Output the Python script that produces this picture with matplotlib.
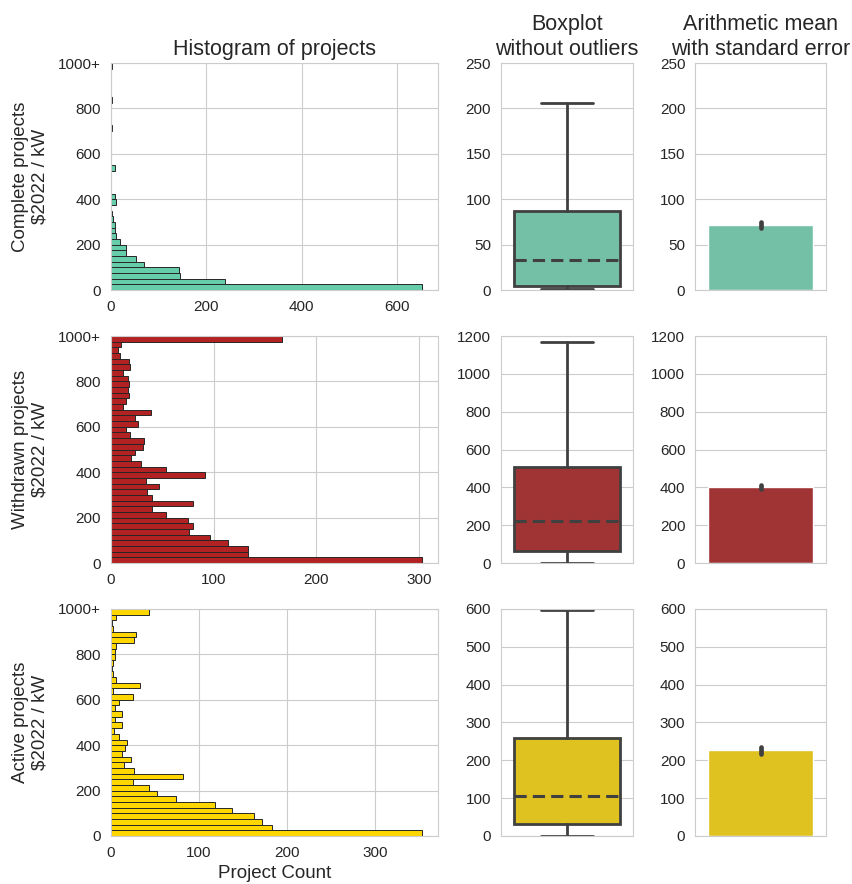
import numpy as np
import matplotlib
matplotlib.use("Agg")
import matplotlib.pyplot as plt
from matplotlib.ticker import MultipleLocator
import seaborn as sns

sns.set_style("whitegrid")
plt.rcParams["font.family"] = ["Liberation Sans", "DejaVu Sans"]

# histogram bins: 25 $/kW wide from 0 to 1000, last bin collects everything above
bin_width = 25
bin_edges = np.arange(0, 1000, bin_width)

statuses = ["Complete", "Withdrawn", "Active"]
hist_colors = ["mediumaquamarine", "firebrick", "gold"]

complete_counts = [653, 239, 146, 143, 70, 54, 33, 31, 19, 12,
                   8, 8, 4, 3, 1, 12, 9, 0, 0, 0,
                   0, 8, 0, 0, 0, 0, 0, 0, 2, 0,
                   0, 0, 0, 2, 0, 0, 0, 0, 0, 3]
withdrawn_counts = [303, 134, 134, 114, 97, 76, 80, 75, 54, 40,
                    80, 40, 35, 47, 34, 92, 54, 29, 20, 24,
                    31, 32, 19, 15, 27, 24, 39, 12, 15, 18,
                    17, 18, 17, 12, 19, 18, 9, 7, 10, 167]
active_counts = [353, 183, 171, 162, 138, 118, 74, 53, 43, 25,
                 82, 26, 15, 23, 13, 16, 18, 9, 4, 13,
                 5, 13, 5, 9, 25, 3, 33, 6, 3, 1,
                 3, 5, 5, 6, 26, 29, 3, 1, 6, 43]
hist_counts = [complete_counts, withdrawn_counts, active_counts]
hist_xsteps = [200, 100, 100]

# boxplot summary (whisker low, Q1, median, Q3, whisker high)
box_whislo = [1, 2, 1]
box_q1 = [5, 62, 33]
box_med = [33, 220, 105]
box_q3 = [87, 507, 260]
box_whishi = [206, 1167, 597]

# arithmetic mean and standard error
mean_vals = [71.5, 403, 226]
mean_sem = [3.5, 12, 8]

box_ylims = [250, 1200, 600]
box_ysteps = [50, 200, 100]

line_gray = "#404040"

fig = plt.figure(figsize=(8.53, 8.84), dpi=100)
row_bottoms = [0.6719, 0.3631, 0.0543]
row_h = 0.2568

for r, status in enumerate(statuses):
    b = row_bottoms[r]
    ax_h = fig.add_axes([0.1298, b, 0.3834, row_h])
    ax_b = fig.add_axes([0.5873, b, 0.1547, row_h])
    ax_m = fig.add_axes([0.8148, b, 0.1536, row_h])

    counts = np.array(hist_counts[r])
    ax_h.barh(bin_edges, counts, height=bin_width, align="edge",
              color=hist_colors[r], edgecolor="#262626", linewidth=0.7)
    ax_h.set_ylim(0, 1000)
    ax_h.set_xlim(0, counts.max() * 1.05)
    ax_h.xaxis.set_major_locator(MultipleLocator(hist_xsteps[r]))
    ax_h.set_yticks([0, 200, 400, 600, 800, 1000])
    ax_h.set_yticklabels(["0", "200", "400", "600", "800", "1000+"])
    ax_h.set_ylabel(f"{status} projects\n\\$2022 / kW", fontsize=13.5, labelpad=7)

    face = sns.desaturate(hist_colors[r], 0.75)
    stats = [dict(whislo=box_whislo[r], q1=box_q1[r], med=box_med[r],
                  q3=box_q3[r], whishi=box_whishi[r], fliers=[])]
    ax_b.bxp(stats, positions=[0], widths=0.8, patch_artist=True,
             showfliers=False,
             boxprops=dict(facecolor=face, edgecolor=line_gray, linewidth=2),
             whiskerprops=dict(color=line_gray, linewidth=2),
             capprops=dict(color=line_gray, linewidth=2),
             medianprops=dict(color=line_gray, linewidth=2.2, linestyle=(0, (4, 2))),
             capwidths=0.4)
    ax_b.set_xlim(-0.5, 0.5)
    ax_b.set_ylim(0, box_ylims[r])
    ax_b.set_yticks(np.arange(0, box_ylims[r] + 1, box_ysteps[r]))
    ax_b.set_xticks([])

    ax_m.bar([0], [mean_vals[r]], width=0.8, color=face)
    ax_m.plot([0, 0], [mean_vals[r] - mean_sem[r], mean_vals[r] + mean_sem[r]],
              color=line_gray, linewidth=3.4, solid_capstyle="round")
    ax_m.set_xlim(-0.5, 0.5)
    ax_m.set_ylim(0, box_ylims[r])
    ax_m.set_yticks(np.arange(0, box_ylims[r] + 1, box_ysteps[r]))
    ax_m.set_xticks([])

    for ax in (ax_h, ax_b, ax_m):
        ax.tick_params(labelsize=11, colors="#262626")
        ax.set_axisbelow(True)
        for sp in ax.spines.values():
            sp.set_color("#cccccc")
    ax_b.grid(axis="x", visible=False)
    ax_m.grid(axis="x", visible=False)

    if r == 0:
        ax_h.set_title("Histogram of projects", fontsize=15.5)
        ax_b.set_title("Boxplot\nwithout outliers", fontsize=15.5)
        ax_m.set_title("Arithmetic mean\nwith standard error", fontsize=15.5)
    if r == 2:
        ax_h.set_xlabel("Project Count", fontsize=13.5, labelpad=4)

fig.savefig("out.png", dpi=100)
